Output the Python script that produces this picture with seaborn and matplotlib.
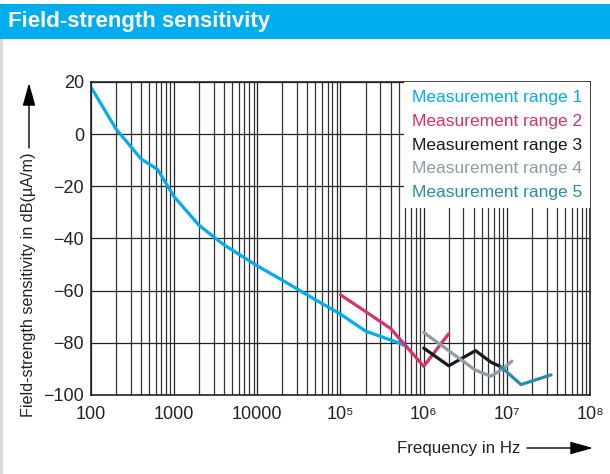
import pandas as pd
import seaborn as sns
import matplotlib.pyplot as plt
from matplotlib.patches import Rectangle

# data
freq_1 = [100, 200, 400, 630, 1000, 2000, 4000, 10000, 20000, 50000, 100000, 200000, 500000, 630000]
sens_1 = [18, 2, -9.5, -13.5, -24, -35, -42.5, -50.5, -56, -63.5, -69, -75.5, -80, -81.5]
freq_2 = [100000, 200000, 400000, 1000000, 2000000]
sens_2 = [-61.6, -68, -74.5, -89, -76.5]
freq_3 = [1000000, 2000000, 4200000, 6500000, 8500000]
sens_3 = [-82, -88.8, -83, -87.5, -89.2]
freq_4 = [1000000, 2000000, 4200000, 6400000, 9000000, 11500000]
sens_4 = [-76, -83, -90.5, -92.8, -90, -87]
freq_5 = [8500000, 14800000, 34000000]
sens_5 = [-89.2, -96, -92.3]

ranges = ['Measurement range 1', 'Measurement range 2', 'Measurement range 3',
          'Measurement range 4', 'Measurement range 5']
colors = ['#00aeef', '#dc2f6b', '#1a1a1a', '#8c9ca8', '#2a8cab']

x_ticks = [1e2, 1e3, 1e4, 1e5, 1e6, 1e7, 1e8]
x_labels = ['100', '1000', '10000', '10⁵', '10⁶', '10⁷', '10⁸']
y_ticks = [-100, -80, -60, -40, -20, 0, 20]

rows = []
for name, fr, se in zip(ranges, [freq_1, freq_2, freq_3, freq_4, freq_5],
                        [sens_1, sens_2, sens_3, sens_4, sens_5]):
    for f, s in zip(fr, se):
        rows.append({'freq': f, 'sens': s, 'range': name})
df = pd.DataFrame(rows)

sns.set_style('white')
plt.rcParams['font.family'] = ['Liberation Sans', 'DejaVu Sans']

fig = plt.figure(figsize=(6.1, 4.74), dpi=100)

# title bar
fig.add_artist(Rectangle((0, 1 - 39 / 474), 1, 35 / 474, transform=fig.transFigure,
                         facecolor='#00aeef', edgecolor='none'))
fig.add_artist(Rectangle((0, 0), 3 / 610, 1 - 39 / 474, transform=fig.transFigure,
                         facecolor='#d9d9d9', edgecolor='none'))
fig.text(8 / 610, 1 - 22 / 474, 'Field-strength sensitivity', color='white',
         fontsize=16, fontweight='bold', ha='left', va='center')

ax = fig.add_axes([91 / 610, 1 - 395 / 474, 499 / 610, 313 / 474])
sns.lineplot(data=df, x='freq', y='sens', hue='range', palette=dict(zip(ranges, colors)),
             estimator=None, sort=False, linewidth=2.3, ax=ax)

ax.set_xscale('log')
ax.set_xlim(1e2, 1e8)
ax.set_ylim(-100, 20)
ax.set_xticks(x_ticks)
ax.set_xticklabels(x_labels)
ax.set_yticks(y_ticks)
ax.tick_params(axis='both', which='both', length=0, labelsize=13, colors='#222222')
ax.tick_params(axis='y', pad=5)
ax.tick_params(axis='x', pad=8)
ax.set_xlabel('')
ax.set_ylabel('')
ax.set_axisbelow(True)
ax.grid(True, which='major', axis='both', color='#222222', linewidth=0.9)
ax.grid(True, which='minor', axis='x', color='#333333', linewidth=0.9)
for s in ax.spines.values():
    s.set_color('#222222')
    s.set_linewidth(1.2)

handles, labels = ax.get_legend_handles_labels()
leg = ax.legend(handles, labels, loc='upper right', borderaxespad=0, handlelength=0,
                handletextpad=0, fontsize=12.5, labelspacing=0.5, borderpad=0.45,
                frameon=True, fancybox=False, framealpha=1, facecolor='white',
                edgecolor='none')
for h in leg.legend_handles:
    h.set_visible(False)
for t, c in zip(leg.get_texts(), colors):
    t.set_color(c)

# axis labels with arrows
fig.text(29 / 610, 1 - 417 / 474, 'Field-strength sensitivity in dB(µA/m)', rotation=90,
         ha='center', va='bottom', fontsize=11.6, color='#222222')
ax.annotate('', xy=(29 / 610, 1 - 83 / 474), xytext=(29 / 610, 1 - 148 / 474),
            xycoords='figure fraction', textcoords='figure fraction',
            arrowprops=dict(arrowstyle='-|>,head_length=1.0,head_width=0.28',
                            mutation_scale=14, color='black', lw=1, shrinkA=0, shrinkB=0))
fig.text(520 / 610, 1 - 448 / 474, 'Frequency in Hz', ha='right', va='center',
         fontsize=12.2, color='#222222')
ax.annotate('', xy=(593 / 610, 1 - 448 / 474), xytext=(527 / 610, 1 - 448 / 474),
            xycoords='figure fraction', textcoords='figure fraction',
            arrowprops=dict(arrowstyle='-|>,head_length=1.0,head_width=0.28',
                            mutation_scale=14, color='black', lw=1, shrinkA=0, shrinkB=0))

fig.savefig('out.png', dpi=100)
